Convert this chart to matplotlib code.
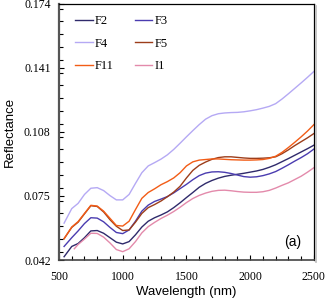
import matplotlib
matplotlib.use("Agg")
import matplotlib.pyplot as plt
from matplotlib.lines import Line2D
from matplotlib.ticker import MultipleLocator

wl = [540, 600, 650, 700, 750, 800, 850, 900, 950, 1000,
      1050, 1100, 1150, 1200, 1250, 1300, 1350, 1400, 1450, 1500,
      1550, 1600, 1650, 1700, 1750, 1800, 1850, 1900, 1950, 2000,
      2050, 2100, 2150, 2200, 2250, 2300, 2350, 2400, 2450, 2500]
wl_i1 = [620, 650, 700, 750, 800, 850, 900, 950, 1000,
         1050, 1100, 1150, 1200, 1250, 1300, 1350, 1400, 1450, 1500,
         1550, 1600, 1650, 1700, 1750, 1800, 1850, 1900, 1950, 2000,
         2050, 2100, 2150, 2200, 2250, 2300, 2350, 2400, 2450, 2500]

f2 = [0.0437, 0.0490, 0.0505, 0.0535, 0.0570, 0.0572, 0.0558, 0.0535, 0.0512, 0.0503,
      0.0515, 0.0550, 0.0590, 0.0620, 0.0638, 0.0652, 0.0668, 0.0690, 0.0715, 0.0742,
      0.0768, 0.0795, 0.0815, 0.0830, 0.0842, 0.0851, 0.0857, 0.0862, 0.0867, 0.0873,
      0.0879, 0.0887, 0.0898, 0.0911, 0.0927, 0.0943, 0.0960, 0.0977, 0.0994, 0.1012]
f3 = [0.0490, 0.0535, 0.0570, 0.0608, 0.0638, 0.0636, 0.0617, 0.0588, 0.0562, 0.0556,
      0.0575, 0.0620, 0.0672, 0.0703, 0.0722, 0.0734, 0.0747, 0.0766, 0.0788, 0.0810,
      0.0834, 0.0855, 0.0868, 0.0874, 0.0875, 0.0872, 0.0866, 0.0858, 0.0850, 0.0847,
      0.0849, 0.0855, 0.0864, 0.0876, 0.0893, 0.0911, 0.0930, 0.0948, 0.0968, 0.0992]
f4 = [0.0610, 0.0685, 0.0712, 0.0758, 0.0790, 0.0793, 0.0778, 0.0752, 0.0730, 0.0730,
      0.0758, 0.0815, 0.0870, 0.0905, 0.0922, 0.0940, 0.0962, 0.0990, 0.1022, 0.1055,
      0.1087, 0.1118, 0.1146, 0.1164, 0.1174, 0.1178, 0.1180, 0.1181, 0.1184, 0.1189,
      0.1195, 0.1203, 0.1212, 0.1226, 0.1250, 0.1277, 0.1305, 0.1333, 0.1362, 0.1392]
f5 = [0.0530, 0.0588, 0.0615, 0.0658, 0.0700, 0.0696, 0.0668, 0.0628, 0.0594, 0.0572,
      0.0575, 0.0615, 0.0660, 0.0690, 0.0706, 0.0724, 0.0746, 0.0770, 0.0800, 0.0843,
      0.0882, 0.0908, 0.0925, 0.0939, 0.0948, 0.0952, 0.0952, 0.0949, 0.0946, 0.0944,
      0.0944, 0.0945, 0.0947, 0.0952, 0.0968, 0.0988, 0.1010, 0.1030, 0.1050, 0.1072]
f11 = [0.0530, 0.0590, 0.0618, 0.0660, 0.0702, 0.0698, 0.0672, 0.0635, 0.0598, 0.0595,
       0.0620, 0.0680, 0.0738, 0.0768, 0.0787, 0.0808, 0.0824, 0.0843, 0.0870, 0.0905,
       0.0926, 0.0935, 0.0938, 0.0941, 0.0941, 0.0939, 0.0937, 0.0936, 0.0935, 0.0935,
       0.0936, 0.0938, 0.0944, 0.0955, 0.0975, 0.1000, 0.1027, 0.1055, 0.1085, 0.1118]
i1 = [0.0478, 0.0500, 0.0528, 0.0558, 0.0557, 0.0538, 0.0508, 0.0474, 0.0463,
      0.0478, 0.0515, 0.0560, 0.0592, 0.0614, 0.0634, 0.0651, 0.0670, 0.0692, 0.0716,
      0.0737, 0.0753, 0.0765, 0.0774, 0.0779, 0.0780, 0.0777, 0.0773, 0.0770, 0.0769,
      0.0769, 0.0772, 0.0779, 0.0791, 0.0805, 0.0818, 0.0835, 0.0852, 0.0873, 0.0896]

yticks = [0.042, 0.075, 0.108, 0.141, 0.174]
xticks = [500, 1000, 1500, 2000, 2500]

colors = {"F2": "#2f2a6b", "F3": "#4a3cb0", "F4": "#b5a9f4",
          "F5": "#9c3d1a", "F11": "#f25c16", "I1": "#e38aab"}

fig = plt.figure(figsize=(3.27, 3.02), dpi=100)
ax = fig.add_axes([0.1804, 0.139, 0.7796, 0.848])

lines = {}
for name, x, y in [("F2", wl, f2), ("F3", wl, f3), ("F4", wl, f4),
                   ("F5", wl, f5), ("F11", wl, f11), ("I1", wl_i1, i1)]:
    lines[name], = ax.plot(x, y, color=colors[name], lw=1.0, label=name,
                           solid_joinstyle="round")

ax.set_xlim(500, 2500)
ax.set_ylim(0.042, 0.174)
ax.set_xticks(xticks)
ax.set_yticks(yticks)
ax.set_xticklabels([str(t) for t in xticks])
ax.set_yticklabels([f"{t:.3f}" for t in yticks])
ax.xaxis.set_minor_locator(MultipleLocator(100))
ax.yaxis.set_minor_locator(MultipleLocator(0.0066))

serif = "Liberation Serif"
sans = "Liberation Sans"
for lab in ax.get_xticklabels() + ax.get_yticklabels():
    lab.set_family(serif)
    lab.set_fontsize(8.5)
ax.tick_params(axis="both", which="major", direction="in", length=3.5, width=0.8,
               top=False, right=False)
ax.tick_params(axis="both", which="minor", direction="in", length=3, width=0.8,
               top=False, right=False)
ax.tick_params(axis="x", which="major", pad=8)
ax.tick_params(axis="y", which="major", pad=6)

ax.set_xlabel("Wavelength (nm)", family=sans, fontsize=9.5, labelpad=2)
ax.set_ylabel("Reflectance", family=sans, fontsize=9.5, labelpad=6)

ax.spines["left"].set_color("#555555")
ax.spines["left"].set_linewidth(1.6)
ax.spines["bottom"].set_color("#444444")
ax.spines["bottom"].set_linewidth(1.2)
ax.spines["top"].set_linewidth(0.9)
ax.spines["right"].set_linewidth(0.9)

# grey shadow along the right frame edge
fig.add_artist(Line2D([315.5 / 327, 315.5 / 327], [1 - 262 / 302, 1 - 6 / 302],
                      transform=fig.transFigure, color="#bbbbbb", lw=1.2))

order = ["F2", "F4", "F11", "F3", "F5", "I1"]
leg = ax.legend([lines[n] for n in order], order, ncol=2, frameon=False,
                loc="upper left", bbox_to_anchor=(0.02, 1.0),
                prop={"family": serif, "size": 9}, handlelength=1.4,
                handletextpad=0.15, columnspacing=1.7, labelspacing=0.85)

ax.text(0.915, 0.07, "(a)", transform=ax.transAxes, ha="center", va="center",
        family=sans, fontsize=10)

fig.savefig("out.png", dpi=100)
